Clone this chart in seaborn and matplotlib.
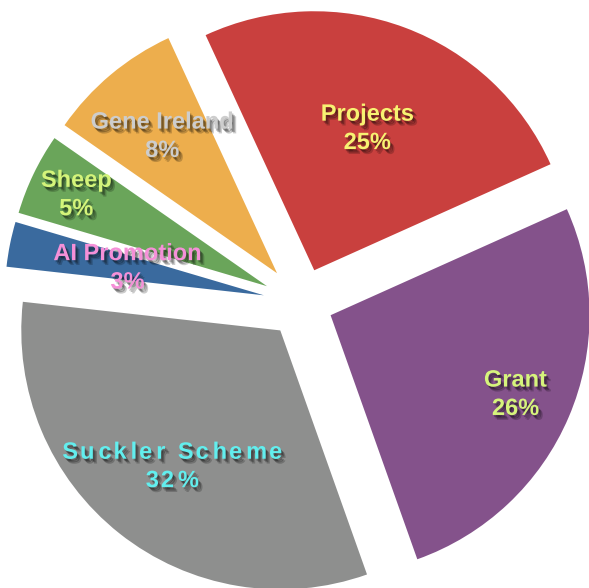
import matplotlib
matplotlib.use("Agg")
import numpy as np
import matplotlib.pyplot as plt
import matplotlib.patheffects as pe
import seaborn as sns

# ---- data ----
categories = ["Projects", "Grant", "Suckler Scheme", "AI Promotion", "Sheep", "Gene Ireland"]
values = [25.1, 26.2, 32.1, 2.8, 5.1, 8.4]
pct_labels = ["25%", "26%", "32%", "3%", "5%", "8%"]

# ---- style ----
slice_colors = ["#c9403e", "#84528b", "#8e8f8e", "#3a6a9e", "#6aa55a", "#edae4d"]
label_colors = ["#f7f272", "#d6f47c", "#62eeee", "#f590d8", "#d4f47a", "#cdcdcd"]
explode = [0.135, 0.12, 0.135, 0.15, 0.15, 0.15]
label_dist = [0.585, 0.777, 0.67, 0.537, 0.817, 0.69]
spaced = [False, False, True, False, False, False]

sns.set_theme(style="white")
plt.rcParams['font.family'] = ['Liberation Sans', 'DejaVu Sans']
palette = sns.color_palette(slice_colors)

fig = plt.figure(figsize=(5.89, 5.88), dpi=100)
ax = fig.add_axes([0, 0, 1, 1])

wedges, _ = ax.pie(values, colors=palette, explode=explode, startangle=114.8,
                   counterclock=False, radius=1.0,
                   wedgeprops=dict(linewidth=0, antialiased=True))

shadow = [
    pe.SimplePatchShadow(offset=(1.0, -1.5), shadow_rgbFace="black", alpha=0.25),
    pe.SimplePatchShadow(offset=(2.0, -2.5), shadow_rgbFace="black", alpha=0.25),
    pe.SimplePatchShadow(offset=(3.0, -3.5), shadow_rgbFace="black", alpha=0.2),
    pe.Normal(),
]


def letter_spaced(s):
    seps = ["\u200a", "\u200a\u200a"]
    out = s[0]
    for i, ch in enumerate(s[1:]):
        out += seps[i % 2] + ch
    return out


for w, cat, pct, col, d, sp in zip(wedges, categories, pct_labels, label_colors, label_dist, spaced):
    mid = np.deg2rad((w.theta1 + w.theta2) / 2)
    cx, cy = w.center
    x = cx + d * w.r * np.cos(mid)
    y = cy + d * w.r * np.sin(mid)
    if sp:
        txt = letter_spaced(cat) + "\n" + letter_spaced(pct)
    else:
        txt = cat + "\n" + pct
    ax.text(x, y, txt, ha="center", va="center", multialignment="center",
            fontsize=17, fontweight="bold", color=col, linespacing=1.3,
            path_effects=shadow)

R = 259.0
ax.set_aspect("auto")
ax.set_xlim(-302 / R, 287 / R)
ax.set_ylim(-285 / R, 303 / R)
ax.axis("off")

fig.savefig("out.png", dpi=100)
